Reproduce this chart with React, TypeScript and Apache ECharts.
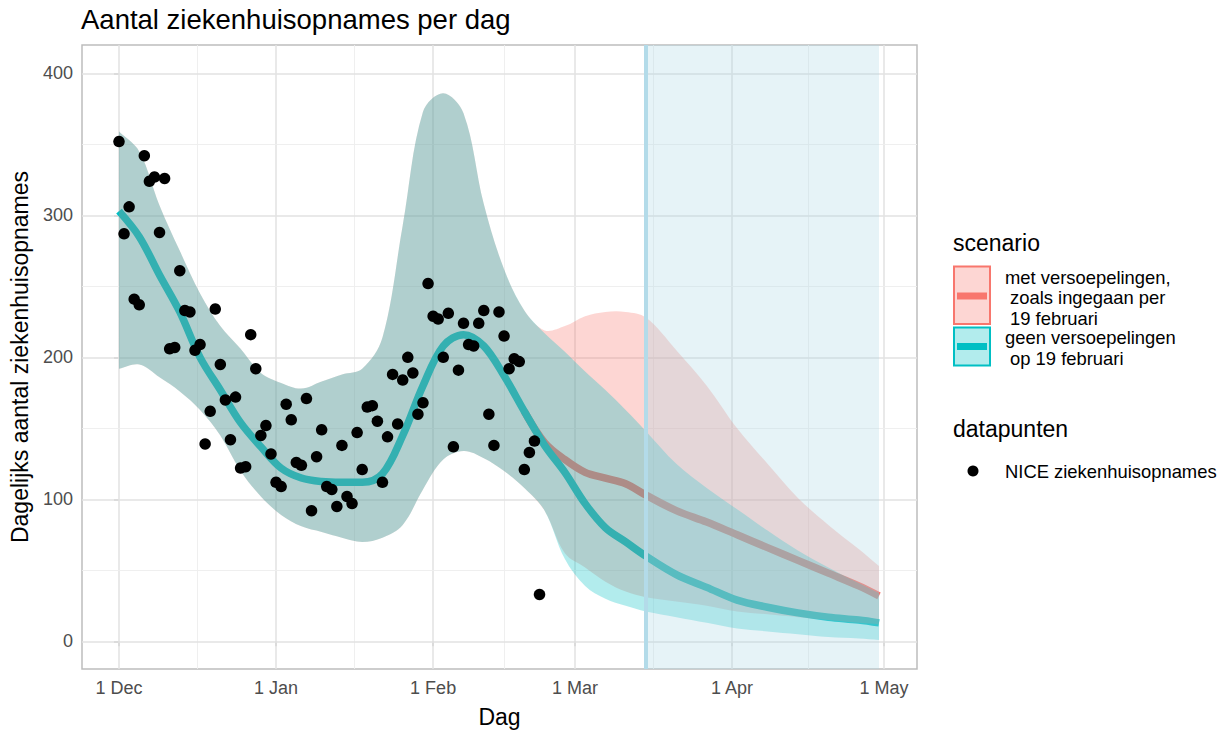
import React, { useEffect, useRef } from "react";
import * as echarts from "echarts";

const FONT = "'Liberation Sans', Arial, Helvetica, sans-serif";

// x axis: days since 1 Dec 2020
const monthTickDays = [0, 31, 62, 90, 121, 151];
const monthTickLabels = ["1 Dec", "1 Jan", "1 Feb", "1 Mar", "1 Apr", "1 May"];
const minorGridDays = [15.5, 46.5, 76, 105.5, 136];
const yTickValues = [0, 100, 200, 300, 400];
const yMinorValues = [50, 150, 250, 350];

// NICE daily hospital admissions, one value per day starting 1 Dec 2020
const niceAdmissions = [
  352, 287, 306, 241, 237, 342, 324, 327, 288, 326,
  206, 207, 261, 233, 232, 205, 209, 139, 162, 234,
  195, 170, 142, 172, 122, 123, 216, 192, 145, 152,
  132, 112, 109, 167, 156, 126, 124, 171, 92, 130,
  149, 109, 107, 95, 138, 102, 97, 147, 121, 165,
  166, 155, 112, 144, 188, 153, 184, 200, 189, 160,
  168, 252, 229, 227, 200, 231, 137, 191, 224, 209,
  208, 224, 233, 160, 138, 232, 215, 192, 199, 197,
  121, 133, 141, 33,
];

// scenario "geen versoepelingen" (model fit + band)
const curveDays = [
  0, 4, 8, 12, 16, 20, 24, 28, 32, 36, 40, 44, 48, 52, 56, 60, 64, 68, 72, 76,
  80, 84, 88, 92, 96, 100, 104, 110, 116, 122, 128, 134, 140, 146, 150,
];
const geenLine = [
  303, 285, 258, 232, 200, 177, 154, 137, 122, 115, 112.5, 112, 112, 118, 145, 180, 208, 216, 208, 187,
  162, 138, 119, 97, 80, 70, 60, 47, 38, 29, 24, 20, 17, 15, 13,
];
const geenLower = [
  192, 195, 186, 176, 163, 145, 120, 102, 89, 81, 77, 73, 70, 73, 82, 107, 128, 134, 129, 120,
  108, 92, 58, 39, 30, 25, 21, 17, 13, 9, 7, 5, 3, 2, 1,
];
const geenUpper = [
  359, 345, 307, 275, 245, 222, 206, 189, 182, 178, 183, 188, 192, 214, 293, 373, 386, 372, 308, 262,
  233, 217, 204, 190, 177, 163, 148, 125, 108, 93, 78, 64, 52, 41, 34,
];

// scenario "met versoepelingen" (differs from 19 Feb onward)
const metDays = [80, 84, 88, 92, 96, 100, 104, 110, 116, 122, 128, 134, 140, 146, 150];
const metLine = [162, 140, 128, 119, 115, 111, 103, 92, 84, 75, 66, 57, 48, 39, 32];
const metLower = [108, 92, 62, 52, 42, 35, 31, 28, 25, 21, 19, 17, 15, 13, 12];
const metUpper = [233, 219, 222, 229, 232, 232, 228, 205, 180, 150, 125, 101, 82, 65, 53];

const bandStartDay = 104; // 15 Mar
const bandEndDay = 150; // 30 Apr

const RED = "#F8766D";
const TEAL = "#00BFC4";

function pairs(xs: number[], ys: number[]) {
  return xs.map((x, i) => [x, ys[i]]);
}

function ribbonSeries(name: string, days: number[], lower: number[], upper: number[], fill: string, z: number) {
  return {
    name,
    type: "custom",
    z,
    silent: true,
    data: [[days[0], lower[0]]],
    renderItem: (_params: any, api: any) => {
      const top = days.map((d, i) => api.coord([d, upper[i]]));
      const bot = days.map((d, i) => api.coord([d, lower[i]])).reverse();
      const pts = [top[0], ...top, top[top.length - 1], bot[0], ...bot, bot[bot.length - 1]];
      return {
        type: "polygon",
        shape: { points: pts, smooth: 0.35 },
        style: { fill, stroke: "none" },
      };
    },
  };
}

export default function App() {
  const ref = useRef<HTMLDivElement>(null);

  useEffect(() => {
    if (!ref.current) return;
    const chart = echarts.init(ref.current, undefined, { renderer: "svg" });

    const metFullLower = curveDays.map((d, i) => (d < 80 ? geenLower[i] : metLower[metDays.indexOf(d)]));
    const metFullUpper = curveDays.map((d, i) => (d < 80 ? geenUpper[i] : metUpper[metDays.indexOf(d)]));

    const major = { color: "#e2e2e2", width: 1.5, type: "solid" };
    const minor = { color: "#ededed", width: 0.9, type: "solid" };
    const gridLines = [
      ...monthTickDays.map((d) => ({ xAxis: d, lineStyle: major })),
      ...minorGridDays.map((d) => ({ xAxis: d, lineStyle: minor })),
      ...yTickValues.map((v) => ({ yAxis: v, lineStyle: major })),
      ...yMinorValues.map((v) => ({ yAxis: v, lineStyle: minor })),
    ];

    const option: any = {
      animation: false,
      grid: {
        left: 81,
        right: 313,
        top: 45,
        bottom: 62,
        show: true,
        borderColor: "#bdbdbd",
        borderWidth: 1.5,
        backgroundColor: "transparent",
      },
      xAxis: {
        type: "value",
        min: -7.3,
        max: 157.5,
        axisLine: { show: false },
        splitLine: { show: false },
        axisTick: { show: true, customValues: monthTickDays, length: 5, lineStyle: { color: "#b3b3b3", width: 1.5 } },
        axisLabel: {
          customValues: monthTickDays,
          formatter: (v: number) => monthTickLabels[monthTickDays.indexOf(v)] ?? "",
          color: "#4d4d4d",
          fontSize: 18,
          fontFamily: FONT,
          margin: 10,
        },
        name: "Dag",
        nameLocation: "middle",
        nameGap: 36,
        nameTextStyle: { color: "#000", fontSize: 23, fontFamily: FONT },
      },
      yAxis: {
        type: "value",
        min: -19.5,
        max: 420,
        axisLine: { show: false },
        splitLine: { show: false },
        axisTick: { show: true, customValues: yTickValues, length: 5, lineStyle: { color: "#b3b3b3", width: 1.5 } },
        axisLabel: {
          customValues: yTickValues,
          color: "#4d4d4d",
          fontSize: 18,
          fontFamily: FONT,
          margin: 9,
        },
        name: "Dagelijks aantal ziekenhuisopnames",
        nameLocation: "middle",
        nameRotate: 90,
        nameGap: 51,
        nameTextStyle: { color: "#000", fontSize: 23, fontFamily: FONT },
      },
      series: [
        {
          name: "met versoepelingen (lijn)",
          type: "line",
          z: 2,
          data: pairs(metDays, metLine),
          smooth: 0.35,
          showSymbol: false,
          silent: true,
          lineStyle: { color: RED, width: 7.5 },
          markLine: {
            silent: true,
            z: 1,
            symbol: "none",
            label: { show: false },
            data: gridLines,
          },
        },
        {
          name: "geen versoepelingen (lijn)",
          type: "line",
          z: 2,
          data: pairs(curveDays, geenLine),
          smooth: 0.35,
          showSymbol: false,
          silent: true,
          lineStyle: { color: TEAL, width: 7.5 },
        },
        ribbonSeries("met versoepelingen", curveDays, metFullLower, metFullUpper, "rgba(248,118,109,0.3)", 3),
        ribbonSeries("geen versoepelingen", curveDays, geenLower, geenUpper, "rgba(0,191,196,0.3)", 4),
        {
          name: "NICE ziekenhuisopnames",
          type: "scatter",
          z: 10,
          symbolSize: 11.5,
          itemStyle: { color: "#000", opacity: 1 },
          silent: true,
          data: niceAdmissions.map((v, i) => [i, v]),
          markArea: {
            silent: true,
            z: 6,
            itemStyle: { color: "rgba(173,216,230,0.3)" },
            data: [[{ xAxis: bandStartDay }, { xAxis: bandEndDay }]],
          },
          markLine: {
            silent: true,
            z: 7,
            symbol: "none",
            label: { show: false },
            lineStyle: { color: "#b3dbe9", width: 4, type: "solid" },
            data: [{ xAxis: bandStartDay }],
          },
        },
      ],
      graphic: [
        {
          type: "text",
          x: 81,
          y: 19,
          style: { text: "Aantal ziekenhuisopnames per dag", fontSize: 27.5, fontFamily: FONT, fill: "#000", verticalAlign: "middle" },
        },
        { type: "text", x: 953, y: 243, style: { text: "scenario", fontSize: 23, fontFamily: FONT, fill: "#000", verticalAlign: "middle" } },
        { type: "rect", shape: { x: 954, y: 266.5, width: 36, height: 57.5 }, style: { fill: "rgba(248,118,109,0.3)", stroke: RED, lineWidth: 2 } },
        { type: "line", shape: { x1: 957, y1: 296, x2: 987, y2: 296 }, style: { stroke: RED, lineWidth: 7 } },
        { type: "rect", shape: { x: 954, y: 327.5, width: 36, height: 38 }, style: { fill: "rgba(0,191,196,0.3)", stroke: TEAL, lineWidth: 2 } },
        { type: "line", shape: { x1: 957, y1: 346.5, x2: 987, y2: 346.5 }, style: { stroke: TEAL, lineWidth: 7 } },
        { type: "text", x: 1005, y: 277, style: { text: "met versoepelingen,", fontSize: 18.4, fontFamily: FONT, fill: "#000", verticalAlign: "middle" } },
        { type: "text", x: 1010, y: 297.5, style: { text: "zoals ingegaan per", fontSize: 18.4, fontFamily: FONT, fill: "#000", verticalAlign: "middle" } },
        { type: "text", x: 1010, y: 318, style: { text: "19 februari", fontSize: 18.4, fontFamily: FONT, fill: "#000", verticalAlign: "middle" } },
        { type: "text", x: 1005, y: 337, style: { text: "geen versoepelingen", fontSize: 18.4, fontFamily: FONT, fill: "#000", verticalAlign: "middle" } },
        { type: "text", x: 1010, y: 358, style: { text: "op 19 februari", fontSize: 18.4, fontFamily: FONT, fill: "#000", verticalAlign: "middle" } },
        { type: "text", x: 953, y: 429, style: { text: "datapunten", fontSize: 23, fontFamily: FONT, fill: "#000", verticalAlign: "middle" } },
        { type: "circle", shape: { cx: 973, cy: 471, r: 5.5 }, style: { fill: "#000" } },
        { type: "text", x: 1005, y: 471, style: { text: "NICE ziekenhuisopnames", fontSize: 18.4, fontFamily: FONT, fill: "#000", verticalAlign: "middle" } },
      ],
    };

    chart.setOption(option);
    return () => chart.dispose();
  }, []);

  return (
    <div
      ref={ref}
      style={{ position: "fixed", left: 0, top: 0, width: 1230, height: 733, background: "#fff" }}
    />
  );
}
